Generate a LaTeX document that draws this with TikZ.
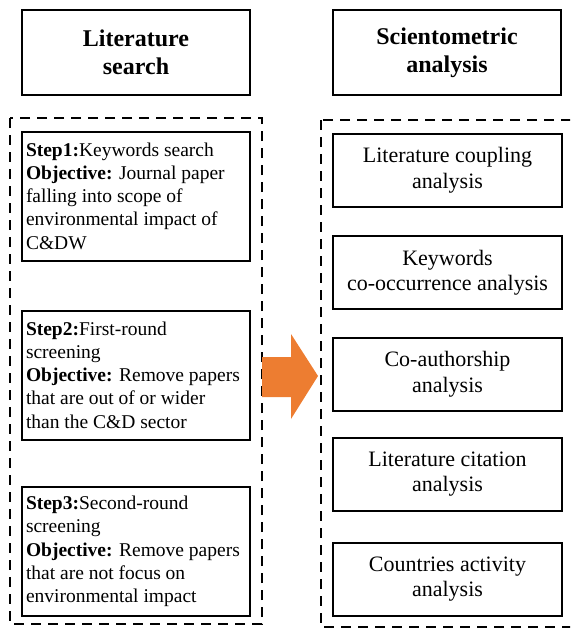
\documentclass[tikz,border=0pt]{standalone}
\usepackage{fontspec}
\setmainfont{Liberation Serif}
\usetikzlibrary{positioning}
\definecolor{arroworange}{RGB}{237,125,49}

\begin{document}
\begin{tikzpicture}[x=1pt, y=-1pt, line join=miter,
	head/.style={draw, line width=2pt, minimum width=228pt, minimum height=85pt, align=center, font=\fontsize{24}{28}\selectfont\bfseries},
	stepbox/.style={draw, line width=2pt, minimum width=228pt, minimum height=129pt, text width=220pt, inner sep=4pt, align=flush left, font=\fontsize{19.5}{23.3}\selectfont},
	toolbox/.style={draw, line width=2pt, minimum width=229pt, minimum height=73pt, align=center, font=\fontsize{22}{25.5}\selectfont},
	frame/.style={line width=2pt, dash pattern=on 10pt off 7pt}]
	\useasboundingbox (0,0) rectangle (570,634);
	\clip (0,0) rectangle (570,634);
	% headings
	\node[head] (search) at (136,52.5) {Literature\\search};
	\node[head] (scient) at (447,52.5) {Scientometric\\analysis};
	% dashed groups
	\draw[frame] (10,118) rectangle (262,624);
	\draw[frame] (321,120) rectangle (585,627);
	% search steps
	\node[stepbox] (step1) at (136,196) {\textbf{Step1:}Keywords search\\\textbf{Objective:} Journal paper\\falling into scope of\\environmental impact of\\C\&DW};
	\node[stepbox] (step2) at (136,375) {\textbf{Step2:}First-round\\screening\\\textbf{Objective:} Remove papers\\that are out of or wider\\than the C\&D sector};
	\node[stepbox] (step3) at (136,551.5) {\textbf{Step3:}Second-round\\screening\\\textbf{Objective:} Remove papers\\that are not focus on\\environmental impact};
	% analyses
	\node[toolbox] (coupling) at (447.5,170) {Literature coupling\\analysis};
	\node[toolbox] (keywords) at (447.5,272.5) {Keywords\\co-occurrence analysis};
	\node[toolbox] (coauthor) at (447.5,374) {Co-authorship\\analysis};
	\node[toolbox] (citation) at (447.5,474) {Literature citation\\analysis};
	\node[toolbox] (country) at (447.5,579) {Countries activity\\analysis};
	% big arrow between the groups
	\fill[arroworange] (262,357) -- (291,357) -- (291,334) -- (318,376) -- (291,419) -- (291,397) -- (262,397) -- cycle;
\end{tikzpicture}
\end{document}
